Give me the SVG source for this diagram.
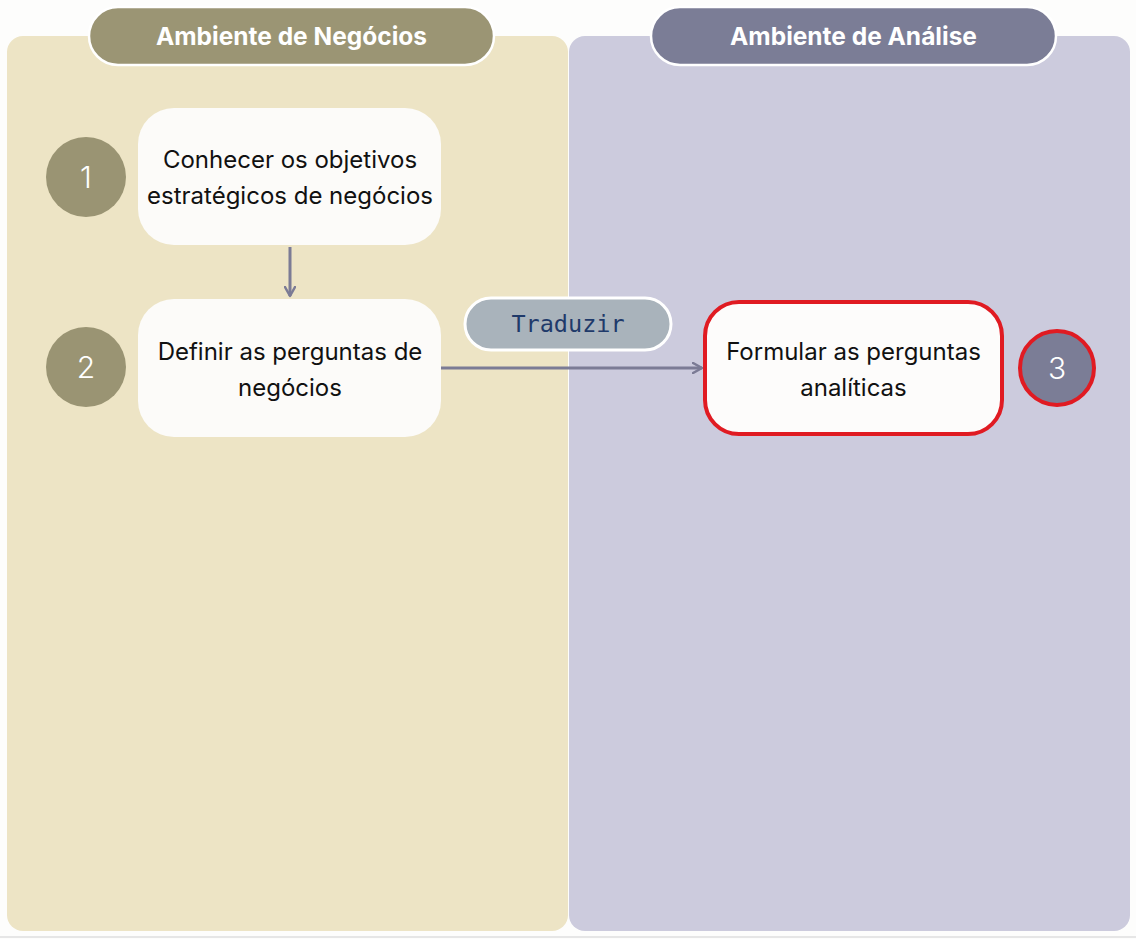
<svg xmlns="http://www.w3.org/2000/svg" width="1136" height="939" viewBox="0 0 1136 939">
<defs>
<style>
.panel-l{fill:#ede4c5}
.panel-r{fill:#cccbdd}
.hdr{stroke:#ffffff;stroke-width:2.5}
.hdr-t{font-family:Inter,"Open Sans",sans-serif;font-weight:700;font-size:24.5px;fill:#ffffff;text-anchor:middle}
.box{fill:#fcfbf9}
.box-t{font-family:Inter,"Open Sans",sans-serif;font-size:24px;fill:#111111;text-anchor:middle}
.num{font-family:Inter,"Open Sans",sans-serif;font-size:30px;font-weight:300;fill:#ffffff;text-anchor:middle}
.conn{stroke:#7b7b95;stroke-width:3;fill:none}
</style>
<marker id="arr" viewBox="0 0 12 12" refX="10" refY="6" markerWidth="12" markerHeight="12" markerUnits="userSpaceOnUse" orient="auto">
<path d="M1,1 L10,6 L1,11" fill="none" stroke="#7b7b95" stroke-width="2.5" stroke-linecap="round" stroke-linejoin="round"/>
</marker>
</defs>
<rect width="1136" height="939" fill="#fdfdfc"/>
<line x1="0" y1="937" x2="1136" y2="937" stroke="#e6e6e6" stroke-width="2"/>
<g id="panel-negocios">
<rect class="panel-l" x="7" y="36" width="561" height="895" rx="16"/>
</g>
<g id="panel-analise">
<rect class="panel-r" x="569" y="36" width="561" height="895" rx="16"/>
</g>
<g id="header-negocios">
<rect class="hdr" x="89" y="7" width="405" height="58" rx="29" fill="#9b9574"/>
<text class="hdr-t" x="291.5" y="45">Ambiente de Negócios</text>
</g>
<g id="header-analise">
<rect class="hdr" x="651" y="7" width="405" height="58" rx="29" fill="#7b7d96"/>
<text class="hdr-t" x="853.5" y="45">Ambiente de Análise</text>
</g>
<g id="connectors">
<line class="conn" x1="290" y1="247" x2="290" y2="296" marker-end="url(#arr)"/>
<line class="conn" x1="441" y1="368" x2="702" y2="368" marker-end="url(#arr)"/>
</g>
<g id="label-traduzir">
<rect x="465" y="298" width="206" height="52" rx="26" fill="#a9b3bb" stroke="#ffffff" stroke-width="3"/>
<text x="568" y="332" font-family="'DejaVu Sans Mono','Liberation Mono',monospace" font-size="23.5" fill="#1f3a6a" text-anchor="middle">Traduzir</text>
</g>
<g id="node-1">
<rect class="box" x="138" y="108" width="303" height="137" rx="36"/>
<text class="box-t" x="290" y="168">Conhecer os objetivos</text>
<text class="box-t" x="290" y="204">estratégicos de negócios</text>
</g>
<g id="badge-1">
<circle cx="86" cy="177" r="40" fill="#9a9473"/>
<text class="num" x="86" y="188">1</text>
</g>
<g id="node-2">
<rect class="box" x="138" y="299" width="303" height="138" rx="36"/>
<text class="box-t" x="290" y="360">Definir as perguntas de</text>
<text class="box-t" x="290" y="396">negócios</text>
</g>
<g id="badge-2">
<circle cx="86" cy="367" r="40" fill="#9a9473"/>
<text class="num" x="86" y="378">2</text>
</g>
<g id="node-3">
<rect x="705" y="302" width="297" height="132" rx="34" fill="#fdfcfb" stroke="#e01b22" stroke-width="4"/>
<text class="box-t" x="853.5" y="360">Formular as perguntas</text>
<text class="box-t" x="853.5" y="396">analíticas</text>
</g>
<g id="badge-3">
<circle cx="1057" cy="368" r="37" fill="#7b7d96" stroke="#e01b22" stroke-width="4"/>
<text class="num" x="1057" y="379">3</text>
</g>
</svg>
